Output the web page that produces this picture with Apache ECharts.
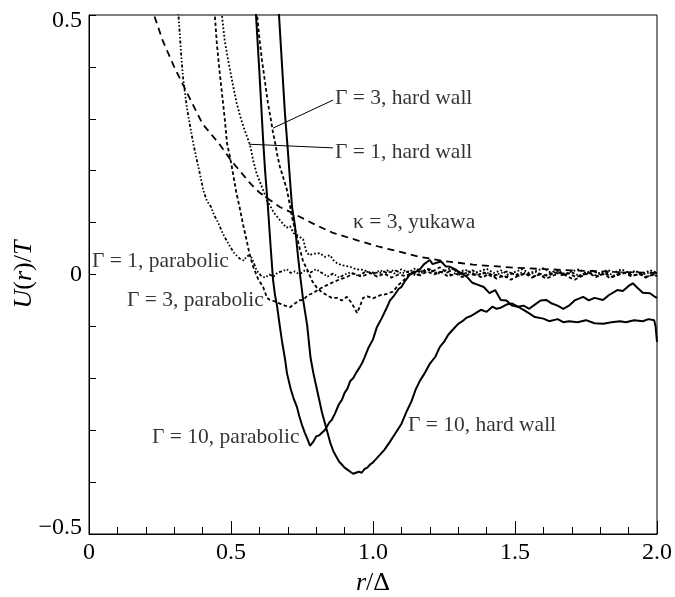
<!DOCTYPE html>
<html><head><meta charset="utf-8">
<script src="https://cdn.jsdelivr.net/npm/echarts@6/dist/echarts.min.js"></script>
<style>html,body{margin:0;padding:0;background:#fff}#c{width:675px;height:597px}</style>
</head><body><div id="c"></div>
<script>
// ---- data: [r/Δ, U(r)/T] ----
const yukawaK3 = [[0.225,0.52],[0.229,0.5],[0.26,0.45],[0.3,0.4],[0.345,0.35],[0.4,0.29],[0.461,0.25],[0.5,0.22],[0.567,0.176],[0.6,0.158],[0.672,0.13],[0.718,0.118],[0.8,0.095],[0.86,0.08],[0.95,0.065],[1.025,0.053],[1.1,0.043],[1.165,0.034],[1.25,0.026],[1.352,0.019],[1.5,0.013],[1.7,0.008],[1.85,0.005],[2.0,0.003]];

const g1parabolic = [[0.313,0.52],[0.315,0.5],[0.325,0.42],[0.331,0.38],[0.345,0.32],[0.358,0.28],[0.367,0.253],[0.38,0.22],[0.392,0.19],[0.402,0.163],[0.415,0.142],[0.43,0.13],[0.44,0.115],[0.455,0.1],[0.47,0.08],[0.49,0.06],[0.51,0.042],[0.532,0.03],[0.545,0.027],[0.555,0.035],[0.567,0.037],[0.575,0.03],[0.59,0.008],[0.605,-0.002],[0.62,-0.006],[0.635,0.0],[0.65,-0.004],[0.665,0.004],[0.68,0.006],[0.697,0.01],[0.71,0.003],[0.725,0.006],[0.74,0.0],[0.76,0.008],[0.78,0.004],[0.8,0.01],[0.82,0.003],[0.84,-0.004],[0.86,0.002],[0.88,-0.006],[0.9,0.0],[0.92,0.004],[0.95,-0.003],[0.975,0.006],[1.0,0.001],[1.025,0.008],[1.05,0.003],[1.075,0.009],[1.1,0.002],[1.125,0.006],[1.15,-0.002],[1.175,0.004],[1.2,0.01],[1.225,0.003],[1.25,0.007],[1.275,-0.001],[1.3,0.005],[1.325,0.002],[1.35,0.008],[1.375,0.0],[1.4,0.004],[1.425,-0.003],[1.45,0.003],[1.475,0.006],[1.5,-0.001],[1.525,0.004],[1.55,0.0],[1.575,0.005],[1.6,-0.003],[1.625,0.002],[1.65,0.006],[1.675,0.0],[1.7,0.004],[1.725,-0.002],[1.75,0.003],[1.775,0.007],[1.8,0.0],[1.825,0.003],[1.85,-0.002],[1.875,0.004],[1.9,0.001],[1.925,0.006],[1.95,0.0],[1.975,0.004],[2.0,0.002]];

const g3parabolic = [[0.44,0.52],[0.443,0.5],[0.45,0.446],[0.46,0.39],[0.468,0.35],[0.478,0.3],[0.486,0.253],[0.497,0.225],[0.507,0.195],[0.518,0.16],[0.53,0.13],[0.543,0.095],[0.555,0.066],[0.565,0.04],[0.578,0.015],[0.595,-0.008],[0.613,-0.024],[0.627,-0.045],[0.637,-0.049],[0.655,-0.052],[0.672,-0.056],[0.69,-0.06],[0.708,-0.063],[0.725,-0.056],[0.74,-0.05],[0.754,-0.049],[0.77,-0.04],[0.789,-0.036],[0.805,-0.03],[0.824,-0.024],[0.84,-0.02],[0.859,-0.015],[0.88,-0.01],[0.908,-0.005],[0.93,0.002],[0.96,-0.004],[0.99,0.003],[1.015,-0.004],[1.04,0.002],[1.065,-0.006],[1.09,0.0],[1.115,-0.003],[1.14,0.004],[1.165,-0.002],[1.19,0.006],[1.215,0.0],[1.24,0.005],[1.265,-0.004],[1.29,0.002],[1.315,-0.005],[1.34,0.001],[1.365,-0.002],[1.39,0.004],[1.415,-0.003],[1.44,0.0],[1.465,-0.006],[1.49,0.002],[1.515,-0.002],[1.54,0.003],[1.565,-0.004],[1.59,0.001],[1.615,-0.003],[1.64,0.004],[1.665,-0.001],[1.69,0.002],[1.715,-0.005],[1.74,0.0],[1.765,0.003],[1.79,-0.003],[1.815,0.002],[1.84,-0.004],[1.865,0.0],[1.89,0.003],[1.915,-0.002],[1.94,0.001],[1.965,-0.004],[1.99,0.0],[2.0,0.001]];

const g1hardwall = [[0.465,0.52],[0.468,0.5],[0.478,0.45],[0.49,0.413],[0.505,0.37],[0.52,0.33],[0.535,0.3],[0.55,0.275],[0.567,0.25],[0.578,0.22],[0.59,0.195],[0.608,0.17],[0.627,0.143],[0.65,0.12],[0.672,0.105],[0.695,0.09],[0.708,0.093],[0.72,0.08],[0.735,0.075],[0.754,0.068],[0.765,0.045],[0.775,0.037],[0.79,0.04],[0.813,0.041],[0.83,0.034],[0.849,0.037],[0.86,0.028],[0.873,0.022],[0.89,0.018],[0.919,0.015],[0.94,0.01],[0.965,0.009],[0.99,0.004],[1.025,0.003],[1.05,0.008],[1.075,0.002],[1.1,0.01],[1.125,0.004],[1.15,0.012],[1.175,0.005],[1.2,0.009],[1.225,0.001],[1.25,0.007],[1.275,0.012],[1.3,0.004],[1.325,0.009],[1.35,0.002],[1.375,0.006],[1.4,0.011],[1.425,0.003],[1.45,0.008],[1.475,0.0],[1.5,0.005],[1.525,0.01],[1.55,0.003],[1.575,0.007],[1.6,0.012],[1.625,0.004],[1.65,0.008],[1.675,0.001],[1.7,0.006],[1.725,0.01],[1.75,0.003],[1.775,0.008],[1.8,0.002],[1.825,0.009],[1.85,0.004],[1.875,0.01],[1.9,0.003],[1.925,0.007],[1.95,0.001],[1.975,0.008],[2.0,0.004]];

const g3hardwall = [[0.59,0.52],[0.592,0.5],[0.6,0.455],[0.609,0.413],[0.62,0.37],[0.63,0.33],[0.64,0.3],[0.648,0.273],[0.655,0.255],[0.663,0.23],[0.672,0.208],[0.685,0.185],[0.697,0.163],[0.707,0.135],[0.715,0.11],[0.725,0.088],[0.732,0.073],[0.742,0.05],[0.754,0.025],[0.768,0.01],[0.785,-0.012],[0.803,-0.026],[0.82,-0.034],[0.838,-0.04],[0.855,-0.045],[0.873,-0.045],[0.89,-0.05],[0.908,-0.043],[0.925,-0.055],[0.944,-0.074],[0.955,-0.06],[0.965,-0.045],[0.98,-0.042],[1.0,-0.046],[1.025,-0.04],[1.045,-0.038],[1.07,-0.033],[1.09,-0.02],[1.11,-0.01],[1.13,0.0],[1.15,0.008],[1.17,0.004],[1.19,0.012],[1.21,0.006],[1.235,0.014],[1.26,0.004],[1.285,0.01],[1.31,-0.002],[1.335,0.006],[1.36,0.0],[1.385,-0.006],[1.41,0.002],[1.435,-0.008],[1.46,-0.002],[1.485,-0.01],[1.51,-0.003],[1.535,0.002],[1.56,-0.006],[1.585,0.0],[1.61,-0.008],[1.635,-0.002],[1.66,0.004],[1.685,-0.004],[1.71,-0.01],[1.735,-0.003],[1.76,0.003],[1.785,-0.005],[1.81,0.001],[1.835,-0.007],[1.86,-0.001],[1.885,0.004],[1.91,-0.004],[1.935,0.002],[1.96,-0.006],[1.985,0.0],[2.0,-0.003]];

const g10parabolic = [[0.585,0.52],[0.588,0.5],[0.6,0.39],[0.613,0.26],[0.62,0.2],[0.63,0.13],[0.64,0.05],[0.648,-0.01],[0.655,-0.04],[0.662,-0.06],[0.672,-0.1],[0.68,-0.13],[0.69,-0.162],[0.697,-0.19],[0.71,-0.22],[0.72,-0.238],[0.732,-0.255],[0.74,-0.272],[0.75,-0.29],[0.76,-0.305],[0.77,-0.318],[0.778,-0.33],[0.79,-0.322],[0.8,-0.312],[0.81,-0.31],[0.82,-0.305],[0.83,-0.3],[0.845,-0.286],[0.855,-0.28],[0.866,-0.268],[0.88,-0.25],[0.89,-0.242],[0.9,-0.228],[0.91,-0.22],[0.92,-0.205],[0.93,-0.2],[0.94,-0.19],[0.954,-0.178],[0.962,-0.17],[0.97,-0.16],[0.985,-0.14],[1.0,-0.125],[1.014,-0.101],[1.03,-0.085],[1.045,-0.068],[1.06,-0.05],[1.075,-0.04],[1.09,-0.028],[1.1,-0.024],[1.11,-0.015],[1.13,0.0],[1.15,0.005],[1.165,0.01],[1.18,0.02],[1.2,0.028],[1.21,0.02],[1.22,0.022],[1.24,0.025],[1.255,0.016],[1.27,0.015],[1.29,0.01],[1.31,0.002],[1.33,-0.004],[1.35,-0.016],[1.37,-0.02],[1.39,-0.024],[1.41,-0.036],[1.43,-0.03],[1.45,-0.049],[1.47,-0.05],[1.49,-0.06],[1.51,-0.062],[1.53,-0.06],[1.55,-0.066],[1.57,-0.058],[1.59,-0.05],[1.61,-0.049],[1.63,-0.056],[1.65,-0.06],[1.67,-0.066],[1.69,-0.06],[1.71,-0.05],[1.74,-0.043],[1.76,-0.05],[1.78,-0.045],[1.81,-0.049],[1.83,-0.04],[1.86,-0.03],[1.88,-0.032],[1.9,-0.022],[1.915,-0.017],[1.93,-0.025],[1.95,-0.035],[1.975,-0.036],[1.99,-0.042],[2.0,-0.045]];

const g10hardwall = [[0.666,0.52],[0.669,0.5],[0.68,0.4],[0.69,0.31],[0.7,0.24],[0.708,0.18],[0.715,0.13],[0.725,0.095],[0.735,0.04],[0.743,0.0],[0.754,-0.049],[0.768,-0.097],[0.78,-0.16],[0.79,-0.19],[0.8,-0.215],[0.81,-0.24],[0.82,-0.265],[0.83,-0.285],[0.84,-0.305],[0.85,-0.325],[0.86,-0.34],[0.87,-0.35],[0.88,-0.36],[0.89,-0.366],[0.9,-0.372],[0.91,-0.376],[0.92,-0.38],[0.93,-0.384],[0.937,-0.387],[0.95,-0.38],[0.96,-0.382],[0.97,-0.375],[0.98,-0.372],[0.99,-0.366],[1.0,-0.362],[1.02,-0.35],[1.04,-0.338],[1.06,-0.322],[1.08,-0.305],[1.1,-0.288],[1.12,-0.262],[1.135,-0.245],[1.15,-0.222],[1.165,-0.205],[1.18,-0.192],[1.2,-0.172],[1.22,-0.158],[1.235,-0.14],[1.25,-0.13],[1.265,-0.116],[1.28,-0.107],[1.3,-0.095],[1.315,-0.09],[1.33,-0.083],[1.345,-0.08],[1.36,-0.075],[1.38,-0.068],[1.4,-0.072],[1.42,-0.062],[1.435,-0.066],[1.45,-0.064],[1.47,-0.058],[1.49,-0.056],[1.51,-0.062],[1.53,-0.068],[1.55,-0.075],[1.57,-0.082],[1.6,-0.085],[1.62,-0.09],[1.65,-0.086],[1.67,-0.092],[1.69,-0.09],[1.72,-0.092],[1.75,-0.088],[1.78,-0.094],[1.81,-0.095],[1.84,-0.092],[1.87,-0.09],[1.89,-0.092],[1.92,-0.088],[1.95,-0.09],[1.97,-0.086],[1.99,-0.088],[1.995,-0.1],[2.0,-0.13]];

// annotation texts and their anchor points (left-middle of text, data units)
const labelTexts = ['Γ = 3, hard wall','Γ = 1, hard wall','κ = 3, yukawa','Γ = 1, parabolic','Γ = 3, parabolic','Γ = 10, parabolic','Γ = 10, hard wall'];
const labelAnchors = [[0.866,0.340],[0.866,0.236],[0.93,0.101],[0.0106,0.026],[0.134,-0.049],[0.222,-0.313],[1.123,-0.29]];
// leader lines
const leader3hw = [[0.648,0.282],[0.859,0.336]];
const leader1hw = [[0.563,0.251],[0.859,0.244]];

const xLabels = {0:'0',0.5:'0.5',1:'1.0',1.5:'1.5',2:'2.0'};
const yLabels = {'-0.5':'−0.5','0':'0','0.5':'0.5'};

const FONT = 'Liberation Serif';
const TICKFS = 24, NAMEFS = 26;
const chart = echarts.init(document.getElementById('c'), null, {renderer:'canvas'});

function line(data, type, width){
  return {type:'line', data, showSymbol:false, symbol:'none', clip:true, animation:false,
    lineStyle:{color:'#000', width:width||1.5, type:type||'solid'}, z:3};
}

const option = {
  backgroundColor:'#fff',
  animation:false,
  grid:{left:89, right:18, top:15, bottom:63, outerBoundsMode:'none', containLabel:false,
    show:true, borderColor:'#000', borderWidth:1, backgroundColor:'transparent'},
  xAxis:{type:'value', min:0, max:2, interval:0.5,
    axisLine:{show:true, onZero:false, lineStyle:{color:'#000', width:1}},
    axisTick:{show:true, inside:true, length:13, lineStyle:{color:'#000', width:1}},
    minorTick:{show:true, splitNumber:5, length:7, lineStyle:{color:'#000', width:1}},
    splitLine:{show:false}, minorSplitLine:{show:false},
    axisLabel:{color:'#000', fontFamily:FONT, fontSize:TICKFS, margin:7,
      formatter:v=>{const k=Math.round(v*2)/2; return xLabels[k]!==undefined?xLabels[k]:'';}},
    name:'{i|r}/Δ', nameLocation:'middle', nameGap:36, nameMoveOverlap:false,
    nameTextStyle:{color:'#000', fontFamily:FONT, fontSize:NAMEFS, rich:{i:{fontStyle:'italic', fontFamily:FONT, fontSize:NAMEFS, color:'#000'}}}
  },
  yAxis:{type:'value', min:-0.5, max:0.5, interval:0.1,
    axisLine:{show:true, onZero:false, lineStyle:{color:'#000', width:1}},
    axisTick:{show:true, inside:true, length:7, lineStyle:{color:'#000', width:1}},
    splitLine:{show:false},
    axisLabel:{color:'#000', fontFamily:FONT, fontSize:TICKFS, margin:7,
      formatter:v=>{
        if (Math.abs(v-Math.round(v*2)/2)>1e-6) return '';
        const k = String(Math.round(v*2)/2);
        if (k==='0.5') return '{t|0.5}';
        if (k==='-0.5') return '{b|−0.5}';
        return yLabels[k]||'';
      },
      rich:{t:{fontFamily:FONT, fontSize:TICKFS, color:'#000', padding:[12,0,0,0]},
            b:{fontFamily:FONT, fontSize:TICKFS, color:'#000', padding:[0,0,12,0]}}},
    name:'{i|U}({i|r})/{i|T}', nameLocation:'middle', nameGap:52, nameRotate:90, nameMoveOverlap:false,
    nameTextStyle:{color:'#000', fontFamily:FONT, fontSize:NAMEFS, rich:{i:{fontStyle:'italic', fontFamily:FONT, fontSize:NAMEFS, color:'#000'}}}
  },
  series:[
    line(yukawaK3, [7,5], 1.8),
    line(g1parabolic, [3,2,1.5,2,1.5,2], 1.8),
    line(g3parabolic, [3.5,2.5], 1.8),
    line(g1hardwall, [1.8,2], 1.8),
    line(g3hardwall, [3.5,2.5], 1.8),
    line(g10parabolic, 'solid', 2),
    line(g10hardwall, 'solid', 2),
    line(leader3hw, 'solid', 1),
    line(leader1hw, 'solid', 1),
    {type:'scatter', symbolSize:0, animation:false, silent:true, z:5,
      data: labelAnchors.map((p,i)=>({value:p, name:labelTexts[i]})),
      label:{show:true, position:'right', distance:0, formatter:p=>p.name,
        color:'#000', fontFamily:FONT, fontSize:21.5, verticalAlign:'middle', align:'left'}}
  ]
};
chart.setOption(option);
</script>
</body></html>
